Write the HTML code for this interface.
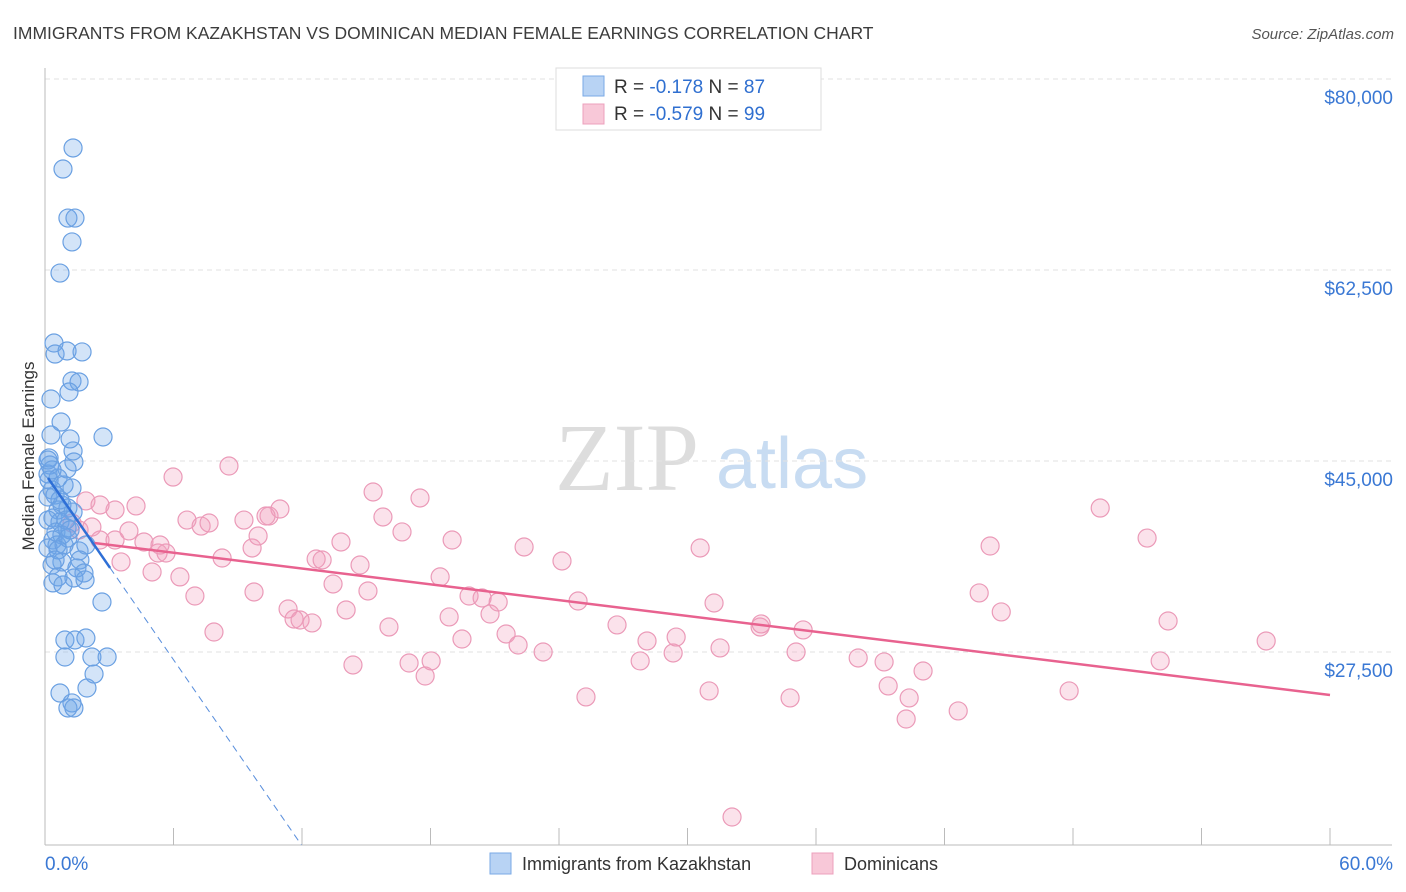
<!DOCTYPE html>
<html><head><meta charset="utf-8"><style>
body{margin:0;background:#fff;font-family:"Liberation Sans",sans-serif;}
svg{display:block}
</style></head><body>
<svg id="chart" width="1406" height="892" viewBox="0 0 1406 892" xmlns="http://www.w3.org/2000/svg">
<text x="13" y="39" font-size="17.5" fill="#3c3c3c">IMMIGRANTS FROM KAZAKHSTAN VS DOMINICAN MEDIAN FEMALE EARNINGS CORRELATION CHART</text>
<text x="1394" y="39" font-size="15" fill="#555" text-anchor="end" font-style="italic">Source: ZipAtlas.com</text>
<text transform="translate(34,456) rotate(-90)" font-size="17" fill="#333" text-anchor="middle">Median Female Earnings</text>
<g>
<text x="555" y="490" font-family="Liberation Serif,serif" font-size="96" fill="#ddd">ZIP</text>
<text x="716" y="488" font-size="72" fill="#c8dcf2">atlas</text>
</g>
<g id="grid"></g><g id="axes"></g><g id="pts"></g><g id="trend"></g>
<g>
<rect x="556" y="68" width="265" height="62" fill="#fff" stroke="#ddd"/>
<rect x="583" y="76" width="21" height="20" fill="#b8d3f4" stroke="#7aaae6"/>
<rect x="583" y="104" width="21" height="20" fill="#f8c8d8" stroke="#eca0bc"/>
<text x="614" y="93" font-size="19" fill="#333">R = <tspan fill="#2f6fd0"> -0.178</tspan>   N = <tspan fill="#2f6fd0">87</tspan></text>
<text x="614" y="120" font-size="19" fill="#333">R = <tspan fill="#2f6fd0">-0.579</tspan>   N = <tspan fill="#2f6fd0">99</tspan></text>
</g>
<g>
<rect x="490" y="853" width="21" height="21" fill="#b8d3f4" stroke="#7aaae6"/>
<text x="522" y="870" font-size="18" fill="#333">Immigrants from Kazakhstan</text>
<rect x="812" y="853" width="21" height="21" fill="#f8c8d8" stroke="#eca0bc"/>
<text x="844" y="870" font-size="18" fill="#333">Dominicans</text>
</g>
</svg>
<script>
const yTicks=[80,62.5,45,27.5];
const yTickLabels=["$80,000","$62,500","$45,000","$27,500"];
const xTicks=[0,6,12,18,24,30,36,42,48,54,60];
const xTickLabels=["0.0%","60.0%"];
const blueX=[1.31,0.84,1.07,1.40,1.26,0.70,0.42,0.47,1.03,1.73,1.26,1.59,1.12,0.28,0.75,0.28,1.17,2.71,1.31,0.19,0.23,1.35,1.03,0.14,0.61,0.89,1.26,0.33,0.47,0.14,0.79,1.07,0.61,1.31,0.37,0.70,0.14,1.03,0.51,0.79,0.37,0.56,0.14,0.89,1.07,0.61,1.59,1.91,1.63,0.79,0.33,1.49,1.82,1.35,0.61,0.37,2.66,0.93,1.40,1.91,0.93,2.19,2.90,2.29,0.70,1.96,1.26,1.07,1.35,0.19,0.14,0.33,0.70,0.98,1.17,0.47,0.84,1.87];
const blueY=[75.33,73.40,68.91,68.91,66.72,63.87,57.46,56.45,56.73,56.64,53.98,53.89,52.97,52.33,50.22,49.03,48.67,48.85,47.57,46.93,46.28,46.56,45.92,45.46,45.09,44.45,44.18,44.00,43.53,43.35,42.62,42.34,42.16,41.97,41.43,41.06,41.24,40.51,40.14,39.87,39.41,38.95,38.68,38.95,39.59,38.50,38.41,38.95,37.58,37.40,37.12,36.85,36.39,35.93,36.03,35.48,33.73,30.25,30.25,30.43,28.69,28.69,28.69,27.13,25.39,25.85,24.48,24.02,24.02,44.91,46.74,45.83,43.08,41.24,40.33,37.58,35.29,35.75];
const pinkX=[5.98,8.59,4.25,1.91,2.57,3.27,3.92,1.26,1.59,2.19,3.55,4.62,5.28,5.65,5.00,6.30,6.63,7.29,7.66,7.00,7.89,8.27,9.29,9.67,9.95,9.76,10.46,10.97,10.32,11.35,11.63,11.91,12.47,12.66,12.94,13.45,13.82,14.06,14.38,14.71,15.08,15.32,15.78,16.06,16.67,17.00,17.51,17.75,18.03,18.45,19.01,18.87,19.47,19.80,20.41,20.78,21.16,21.53,22.09,22.37,23.26,24.14,24.89,25.26,26.71,27.79,28.11,29.33,29.47,30.59,31.01,31.24,31.52,33.39,33.44,34.79,35.07,35.40,37.97,39.18,39.37,40.35,40.21,41.00,42.64,43.62,44.13,44.65,47.82,49.27,51.46,52.07,52.44,57.02,32.08,3.27,2.57,5.37];
const pinkY=[45.18,46.19,42.53,42.99,39.41,39.41,40.24,40.97,40.33,40.60,37.40,39.23,38.22,38.22,36.48,36.03,41.24,40.69,40.97,34.28,30.98,37.76,41.24,38.68,39.78,34.65,41.61,42.25,41.61,33.09,32.17,32.08,31.81,37.67,37.58,35.38,39.23,33.00,27.96,37.12,34.74,43.81,41.52,31.44,40.15,28.14,43.26,26.95,28.33,36.03,39.41,32.36,30.34,34.28,34.10,32.63,33.73,30.80,29.79,38.77,29.15,37.49,33.82,25.03,31.63,28.33,30.16,29.06,30.52,38.68,25.58,33.64,29.52,31.44,31.72,24.94,29.15,31.17,28.60,28.24,26.04,24.94,23.01,27.41,23.75,34.56,38.86,32.82,25.58,42.34,39.59,28.33,31.99,30.16,14.03,42.16,42.62,38.95];
const pinkTrendX=[2.3,60];
const pinkTrendY=[39.14,25.21];
const blueTrendX=[0.14,3.04];
const blueTrendY=[45.09,36.85];
const blueDashEndY=11.47;

const NS="http://www.w3.org/2000/svg";
const xS=p=>45+p*(1285/60);
const yS=v=>97+(80-v)*(191/17.5);
function mk(parent,tag,attrs){const e=document.createElementNS(NS,tag);for(const k in attrs)e.setAttribute(k,attrs[k]);document.getElementById(parent).appendChild(e);return e;}

yTicks.forEach((t,i)=>{
 const gl=mk('grid','line',{x1:45,x2:1392,y1:yS(t)-18,y2:yS(t)-18,stroke:'#e2e2e2','stroke-dasharray':'5,4'});
 
 
 const tl=mk('grid','text',{x:1393,y:yS(t)+7,'font-size':19,fill:'#3a78d4','text-anchor':'end'});
 tl.textContent=yTickLabels[i];
 
 
});
const ax1=mk('axes','line',{x1:45,x2:45,y1:68,y2:845,stroke:'#bbb'});


const ax2=mk('axes','line',{x1:45,x2:1392,y1:845,y2:845,stroke:'#bbb'});


xTicks.forEach(t=>{
 const tk=mk('axes','line',{x1:xS(t),x2:xS(t),y1:828,y2:845,stroke:'#bbb'});
 
 
});
const xl0=mk('axes','text',{x:45,y:870,'font-size':19,fill:'#3a78d4'});
xl0.textContent=xTickLabels[0];


const xl1=mk('axes','text',{x:1393,y:870,'font-size':19,fill:'#3a78d4','text-anchor':'end'});
xl1.textContent=xTickLabels[1];



pinkX.forEach((x,i)=>{
 const c=mk('pts','circle',{cx:xS(x),cy:yS(pinkY[i]),r:9,fill:'rgba(242,160,188,0.3)',stroke:'#eb9ab8','stroke-width':1.2});
 
 
});
blueX.forEach((x,i)=>{
 const c=mk('pts','circle',{cx:xS(x),cy:yS(blueY[i]),r:9,fill:'rgba(110,165,232,0.3)',stroke:'#6aa0e2','stroke-width':1.2});
 
 
});
const pl=mk('trend','line',{x1:xS(pinkTrendX[0]),y1:yS(pinkTrendY[0]),x2:xS(pinkTrendX[1]),y2:yS(pinkTrendY[1]),stroke:'#e8628f','stroke-width':2.5});


const bl=mk('trend','line',{x1:xS(blueTrendX[0]),y1:yS(blueTrendY[0]),x2:xS(blueTrendX[1]),y2:yS(blueTrendY[1]),stroke:'#2e6fd6','stroke-width':2.5});


const slope=(blueTrendY[1]-blueTrendY[0])/(blueTrendX[1]-blueTrendX[0]);
const endX=blueTrendX[1]+(blueDashEndY-blueTrendY[1])/slope;
const bd=mk('trend','line',{x1:xS(blueTrendX[1]),y1:yS(blueTrendY[1]),x2:xS(endX),y2:yS(blueDashEndY),stroke:'#5a8fdc','stroke-width':1,'stroke-dasharray':'7,5'});


</script>
</body></html>
